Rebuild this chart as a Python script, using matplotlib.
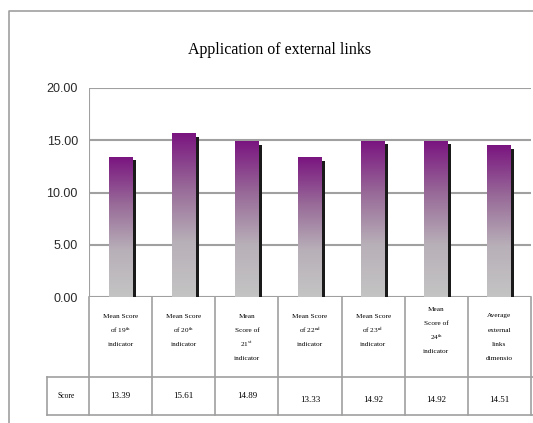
#!/usr/bin/env python
# -*- coding: utf-8 -*-

import numpy as np
import matplotlib.pyplot as plt
from matplotlib.colors import LinearSegmentedColormap
from matplotlib.lines import Line2D

title = 'Application of external links'
categories = [
    'Mean Score\nof 19$^{\\rm th}$\nindicator',
    'Mean Score\nof 20$^{\\rm th}$\nindicator',
    'Mean\nScore of\n21$^{\\rm st}$\nindicator',
    'Mean Score\nof 22$^{\\rm nd}$\nindicator',
    'Mean Score\nof 23$^{\\rm rd}$\nindicator',
    'Mean\nScore of\n24$^{\\rm th}$\nindicator',
    'Average\nexternal\nlinks\ndimensio',
]
scores = [13.39, 15.61, 14.89, 13.33, 14.92, 14.92, 14.51]
score_labels = ['13.39', '15.61', '14.89', '13.33', '14.92', '14.92', '14.51']
row_label = 'Score'
yticks = [0, 5, 10, 15, 20]

W, H = 533, 423
GRAY = '#a0a0a0'

plt.rcParams['mathtext.fontset'] = 'stix'


def fx(px):
    return px / W


def fy(py):
    return 1 - py / H


def make_plots():
    fig = plt.figure(figsize=(W / 100, H / 100), dpi=100)

    # outer frame
    fig.add_artist(Line2D([fx(9), fx(9), fx(533)], [fy(423), fy(11), fy(11)],
                          color=GRAY, lw=1.2))

    fig.text(fx(280), fy(50), title, ha='center', va='center',
             family='Liberation Serif', fontsize=11.5)

    left, right, top, bottom = 89, 531, 88, 297
    ax = fig.add_axes([fx(left), fy(bottom), fx(right - left), (bottom - top) / H])
    n = len(scores)
    for s in ax.spines.values():
        s.set_visible(False)
    ax.axvline(0, color=GRAY, lw=1.5)
    for t in yticks:
        ax.axhline(t, color=GRAY, lw=1.5, zorder=0)
    ax.set_xticks([])
    ax.set_yticks(yticks)
    ax.set_yticklabels(['%.2f' % t for t in yticks], family='Liberation Sans',
                       fontsize=9, color='#2a2a2a')
    ax.tick_params(axis='y', length=0, pad=8)

    cmap = LinearSegmentedColormap.from_list(
        'bar', ['#c4c4c4', '#b8b0b8', '#986a98', '#7a1580'])
    grad = np.linspace(0, 1, 256).reshape(-1, 1)
    bw = 0.38
    for i, v in enumerate(scores):
        x0 = i + 0.5 - bw / 2
        # drop shadow
        ax.bar(x0 + bw + 0.024, v - 0.3, width=0.048, bottom=0, color='#1a1a1a',
               zorder=2)
        ax.imshow(grad, extent=[x0, x0 + bw, 0, v], origin='lower', cmap=cmap,
                  aspect='auto', zorder=3)
    ax.set_xlim(0, n)
    ax.set_ylim(0, 20)

    # data table below the chart
    cw = (right - left) / n
    row1, row2 = 377, 415
    lines = [
        ([left, left], [bottom, row2]),
        ([47, 533], [row1, row1]),
        ([47, 533], [row2, row2]),
        ([47, 47], [row1, row2]),
    ]
    for i in range(1, n + 1):
        xl = left + i * cw
        lines.append(([xl, xl], [bottom, row2]))
    for xs, ys in lines:
        fig.add_artist(Line2D([fx(x) for x in xs], [fy(y) for y in ys],
                              color=GRAY, lw=1.2))

    for i, lab in enumerate(categories):
        xc = left + (i + 0.5) * cw
        y0 = 309 if i == 5 else 316
        for k, part in enumerate(lab.split('\n')):
            fig.text(fx(xc), fy(y0 + 14 * k), part, ha='center', va='center',
                     family='Liberation Serif', fontsize=5.2)
        fig.text(fx(xc), fy(396 if i < 3 else 400), score_labels[i],
                 ha='center', va='center', family='Liberation Serif', fontsize=6.5)
    fig.text(fx(66), fy(396), row_label, ha='center', va='center',
             family='Liberation Serif', fontsize=5.5)

    fig.savefig('out.png', dpi=100)


if __name__ == '__main__':
    make_plots()
